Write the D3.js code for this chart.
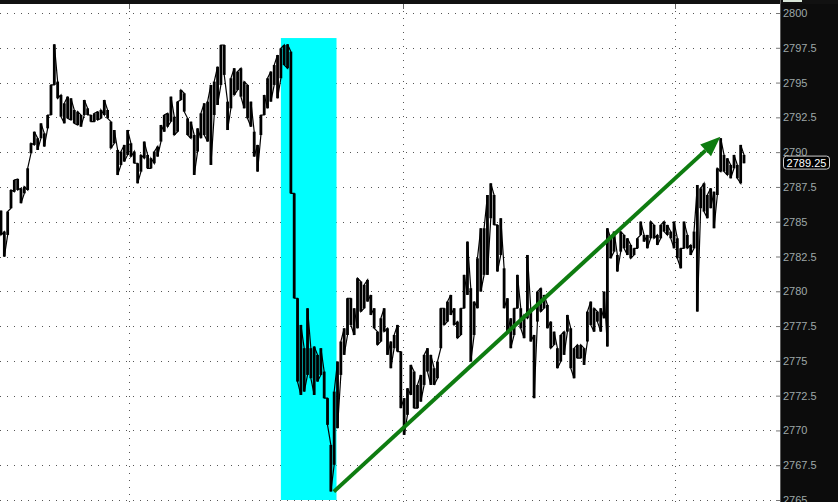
<!DOCTYPE html>
<html><head><meta charset="utf-8">
<script src="https://cdn.jsdelivr.net/npm/d3@7"></script>
<style>html,body{margin:0;padding:0;background:#fff;overflow:hidden}svg{display:block}</style>
</head><body>
<svg id="c" width="838" height="502"></svg>
<script>
// ---- data ----
const priceTicks = [2765,2767.5,2770,2772.5,2775,2777.5,2780,2782.5,2785,2787.5,2790,2792.5,2795,2797.5,2800];
const timeGrid = [38.4, 120.6, 202.2];           // bar index of vertical grid lines
const hi = [2785.80,2784.29,2785.73,2787.28,2788.00,2788.07,2787.40,2787.52,2788.84,2790.64,
2791.47,2791.00,2792.07,2791.35,2792.67,2794.83,2797.75,2795.07,2794.11,2793.51,
2793.99,2793.87,2793.03,2792.91,2792.67,2793.75,2793.15,2792.67,2792.79,2792.91,
2793.03,2793.75,2793.03,2792.19,2791.59,2790.16,2790.04,2790.52,2791.59,2790.64,
2790.04,2789.20,2789.80,2790.76,2789.80,2789.56,2790.04,2790.40,2791.95,2792.67,
2792.79,2793.99,2792.55,2793.63,2794.47,2794.23,2792.43,2792.19,2791.23,2791.71,
2792.79,2793.51,2793.63,2794.83,2795.07,2796.14,2797.70,2797.70,2793.63,2795.31,
2796.03,2795.79,2796.03,2795.07,2794.83,2793.63,2791.47,2790.52,2792.67,2794.11,
2795.31,2795.79,2796.26,2796.98,2797.46,2797.70,2797.75,2797.22,2787.04,2779.50,
2777.58,2775.91,2778.78,2775.91,2776.03,2775.43,2775.91,2774.23,2772.32,2768.96,
2772.79,2774.95,2776.39,2777.34,2779.50,2779.50,2778.78,2780.94,2780.70,2780.46,
2780.82,2779.74,2778.78,2777.10,2778.06,2778.78,2777.34,2776.39,2776.86,2777.58,
2775.67,2772.32,2773.03,2774.71,2774.23,2773.27,2773.99,2775.43,2775.91,2775.43,
2774.47,2774.95,2778.78,2778.78,2779.26,2779.74,2778.78,2777.82,2778.78,2781.18,
2783.57,2780.22,2779.26,2782.37,2784.53,2784.53,2786.92,2787.76,2786.92,2784.77,
2785.25,2781.65,2779.50,2778.06,2778.78,2781.18,2778.78,2778.30,2782.61,2778.78,
2776.86,2779.98,2780.22,2779.74,2779.02,2777.82,2777.10,2775.91,2776.86,2777.10,
2778.30,2777.34,2775.91,2776.15,2776.15,2775.91,2778.54,2779.26,2778.78,2778.54,
2778.78,2779.98,2784.53,2783.81,2784.29,2782.61,2784.29,2784.05,2783.81,2783.33,
2783.09,2783.81,2785.01,2784.05,2784.05,2785.01,2784.77,2784.05,2784.77,2785.01,
2784.77,2784.29,2785.01,2783.81,2783.09,2785.01,2784.05,2783.33,2784.29,2787.64,
2787.40,2787.76,2786.92,2787.40,2787.16,2788.84,2791.00,2789.80,2789.56,2789.08,
2789.80,2789.08,2790.52,2789.80];
const lo = [2784.05,2782.49,2784.05,2785.97,2787.16,2787.28,2786.33,2787.04,2787.28,2789.92,
2790.52,2790.16,2791.00,2790.40,2791.71,2792.67,2794.83,2793.87,2792.55,2792.07,
2792.43,2792.31,2792.07,2791.95,2791.83,2792.67,2792.67,2792.19,2792.19,2792.31,
2792.43,2792.67,2792.43,2790.28,2790.64,2788.36,2789.08,2789.32,2789.80,2789.68,
2789.20,2787.76,2788.60,2789.56,2788.84,2788.84,2789.20,2789.68,2790.76,2791.47,
2791.83,2792.19,2791.23,2791.47,2793.75,2792.91,2791.23,2791.00,2788.36,2790.04,
2791.00,2791.23,2790.76,2789.08,2792.67,2793.39,2794.83,2795.55,2791.59,2793.15,
2794.11,2794.47,2793.99,2793.15,2792.43,2791.83,2789.68,2788.60,2791.23,2792.67,
2793.15,2793.63,2794.83,2793.87,2795.31,2796.26,2796.03,2787.04,2779.50,2773.51,
2772.55,2772.79,2773.99,2773.75,2772.55,2773.51,2773.99,2772.32,2770.40,2765.61,
2767.53,2770.16,2773.99,2775.43,2776.86,2777.58,2776.86,2777.34,2778.54,2778.78,
2779.26,2778.30,2777.34,2776.15,2776.39,2777.10,2775.43,2774.47,2775.91,2775.67,
2771.60,2769.68,2771.12,2772.55,2771.60,2771.60,2772.07,2773.27,2774.23,2773.27,
2773.27,2773.75,2775.91,2777.58,2777.82,2778.30,2777.58,2776.63,2776.86,2778.78,
2779.74,2774.95,2776.86,2778.78,2779.98,2781.18,2781.18,2785.25,2784.77,2781.42,
2782.61,2778.78,2777.10,2775.91,2776.86,2778.78,2777.34,2776.63,2778.06,2776.39,
2772.32,2777.82,2778.54,2778.78,2777.34,2775.91,2776.15,2774.47,2774.95,2775.43,
2777.10,2774.47,2773.75,2775.19,2775.19,2774.71,2776.39,2777.58,2777.10,2777.82,
2777.10,2778.06,2776.03,2782.37,2782.85,2781.42,2782.85,2783.09,2782.61,2782.37,
2782.61,2783.09,2784.05,2783.57,2783.09,2783.81,2783.81,2783.33,2783.81,2784.29,
2784.05,2783.81,2783.09,2782.37,2781.65,2783.09,2783.09,2782.61,2783.09,2778.54,
2785.97,2785.73,2785.25,2785.97,2784.53,2786.92,2788.60,2788.60,2788.36,2788.12,
2788.84,2788.12,2787.76,2789.20];
const lastPrice = 2789.25;
const highlight = {from: 84, to: 100.7, top: 2798.2, bottom: 2765};
const trendFrom = {i: 99.9, p: 2765.6};
const trendTo = {i: 215.9, p: 2791.1};

// ---- chart ----
const W = 838, H = 502, plotRight = 780;
const svg = d3.select('#c');
const x = d3.scaleLinear().domain([0, hi.length - 1]).range([1, 744]);
const y = d3.scaleLinear().domain([2765, 2800]).range([500, 13]);

svg.append('rect').attr('width', W).attr('height', H).attr('fill', '#fff');

// grid
const g = svg.append('g');
g.selectAll('line.h').data(priceTicks).join('line')
  .attr('x1', 0).attr('x2', 776)
  .attr('y1', d => Math.round(y(d)) + 0.5).attr('y2', d => Math.round(y(d)) + 0.5)
  .attr('stroke', '#555').attr('stroke-width', 1).attr('stroke-dasharray', '1,6');
g.selectAll('line.v').data(timeGrid).join('line')
  .attr('x1', d => Math.round(x(d)) + 0.5).attr('x2', d => Math.round(x(d)) + 0.5)
  .attr('y1', 4).attr('y2', H)
  .attr('stroke', '#555').attr('stroke-width', 1).attr('stroke-dasharray', '1,6');

// highlight box
svg.append('rect')
  .attr('x', x(highlight.from)).attr('y', y(highlight.top))
  .attr('width', x(highlight.to) - x(highlight.from))
  .attr('height', y(highlight.bottom) - y(highlight.top))
  .attr('fill', '#00ffff');

// price bars
const pts = [];
let prev = null;
hi.forEach((h, i) => {
  const a = [x(i), y(h)], b = [x(i), y(lo[i])];
  if (prev !== null && Math.abs(prev - b[1]) < Math.abs(prev - a[1])) { pts.push(b, a); prev = a[1]; }
  else { pts.push(a, b); prev = b[1]; }
});
svg.append('g').selectAll('rect').data(hi).join('rect')
  .attr('x', (d, i) => x(i) - 1.4).attr('width', 2.8)
  .attr('y', d => y(d)).attr('height', (d, i) => Math.max(1, y(lo[i]) - y(d)))
  .attr('fill', '#000');
svg.append('path').attr('d', d3.line()(pts))
  .attr('fill', 'none').attr('stroke', '#000').attr('stroke-width', 1.2);

// trend arrow
const x1 = x(trendFrom.i), y1 = y(trendFrom.p), x2 = x(trendTo.i), y2 = y(trendTo.p);
const ang = Math.atan2(y2 - y1, x2 - x1), headLen = 20, headW = 8;
const bx = x2 - headLen * Math.cos(ang), by = y2 - headLen * Math.sin(ang);
svg.append('line').attr('x1', x1).attr('y1', y1).attr('x2', bx).attr('y2', by)
  .attr('stroke', '#0e7c10').attr('stroke-width', 4);
svg.append('polygon')
  .attr('points', [[x2, y2],
    [bx + headW * Math.sin(ang), by - headW * Math.cos(ang)],
    [bx - headW * Math.sin(ang), by + headW * Math.cos(ang)]].map(p => p.join(',')).join(' '))
  .attr('fill', '#0e7c10');

// axis panel
svg.append('rect').attr('x', plotRight).attr('y', 0).attr('width', W - plotRight).attr('height', H).attr('fill', '#0c0c0c');
svg.append('rect').attr('x', 0).attr('y', 0).attr('width', W).attr('height', 4).attr('fill', '#111');
svg.append('rect').attr('x', 783).attr('y', 0).attr('width', 19).attr('height', 2).attr('fill', '#d9e6d9');
svg.selectAll('line.tt').data(timeGrid).join('line')
  .attr('x1', d => Math.round(x(d)) + 0.5).attr('x2', d => Math.round(x(d)) + 0.5)
  .attr('y1', 4).attr('y2', 9).attr('stroke', '#666');
svg.append('line').attr('x1', plotRight + 0.5).attr('x2', plotRight + 0.5).attr('y1', 0).attr('y2', H)
  .attr('stroke', '#5a5a5a');

const axis = d3.axisRight(y).tickValues(priceTicks).tickSize(4).tickPadding(3)
  .tickFormat(d => (d % 1 === 0) ? String(d) : d.toFixed(1));
const ag = svg.append('g').attr('transform', `translate(776,0)`).call(axis);
ag.select('.domain').remove();
ag.selectAll('.tick line').attr('stroke', '#777');
ag.selectAll('.tick text').attr('fill', '#9ea8a8').attr('font-family', '"Liberation Sans", Arial, sans-serif').attr('font-size', 11);

// last price label
const ly = y(lastPrice);
svg.append('rect').attr('x', 783.5).attr('y', ly - 6.5).attr('width', 46).attr('height', 13)
  .attr('rx', 3).attr('fill', '#000').attr('stroke', '#cfcfcf');
svg.append('text').attr('x', 806.5).attr('y', ly).attr('dy', '0.36em').attr('text-anchor', 'middle')
  .attr('fill', '#fff').attr('font-family', '"Liberation Sans", Arial, sans-serif').attr('font-size', 11)
  .text(lastPrice.toFixed(2));
</script>
</body></html>
